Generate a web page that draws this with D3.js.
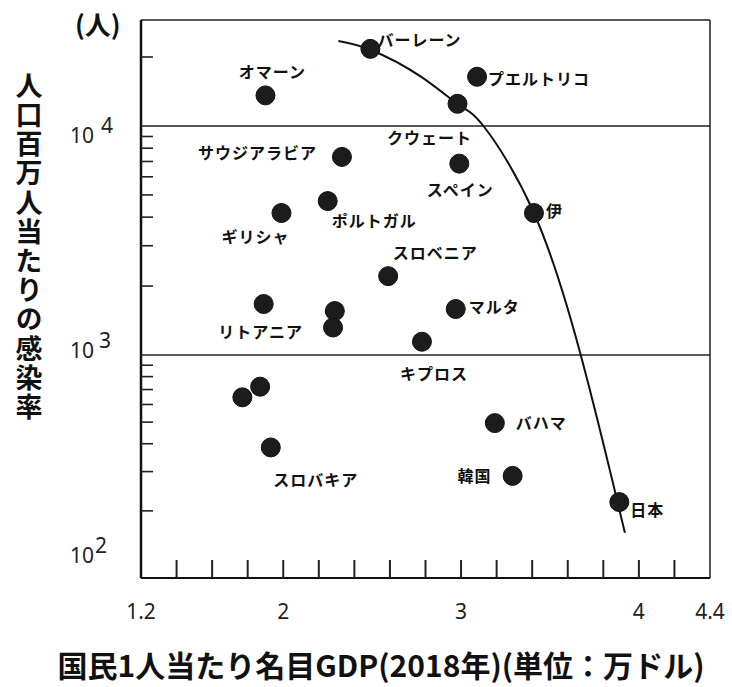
<!DOCTYPE html>
<html>
<head>
<meta charset="utf-8">
<script src="https://cdn.jsdelivr.net/npm/d3@7"></script>
<style>
  body { margin: 0; background: #fff; }
  svg { display: block; }
</style>
</head>
<body>
<script>
// 国民1人当たりGDP(万ドル) と 人口百万人当たりの感染率
var names = ["バーレーン", "プエルトリコ", "クウェート", "オマーン", "サウジアラビア", "スペイン",
  "ポルトガル", "ギリシャ", "伊", "スロベニア", "リトアニア", "", "", "マルタ", "キプロス",
  "", "", "スロバキア", "バハマ", "韓国", "日本"];
var gdp = [2.49, 3.09, 2.98, 1.90, 2.33, 2.99, 2.25, 1.99, 3.41, 2.59, 1.89, 2.29, 2.28, 2.97, 2.78,
  1.77, 1.87, 1.93, 3.19, 3.29, 3.89];
var rate = [21700, 16400, 12500, 13600, 7330, 6850, 4700, 4170, 4170, 2210, 1670, 1556, 1318, 1588, 1143,
  646, 721, 385, 495, 287, 219];

// 手描きの曲線
var curveGdp = [2.31, 2.49, 2.77, 2.98, 3.13, 3.41, 3.67, 3.88, 3.92];
var curveRate = [23500, 21500, 16500, 12480, 9900, 4170, 1020, 219, 161];

var xTickLabels = [1.2, 2, 3, 4, 4.4];
var xMinorTicks = d3.range(1.4, 4.3, 0.2);
var yDecades = [100, 1000, 10000];
var yDecadeExp = ["2", "3", "4"];
var yMinorTicks = [200, 300, 400, 500, 600, 700, 800, 900,
  2000, 3000, 4000, 5000, 6000, 7000, 8000, 9000, 20000];

var W = 732, H = 687;
var plotL = 141, plotR = 710, plotT = 20, plotB = 578;

var x = d3.scaleLinear().domain([1.2, 4.4]).range([plotL, plotR]);
var y = d3.scaleLog().domain([100, 1000, 10000, 29000]).range([plotB, 355, 126, plotT]);  // 手描きなので区分的

var svg = d3.select("body").append("svg")
  .attr("width", W)
  .attr("height", H)
  .style("font-family", "'Noto Sans CJK JP', 'Noto Sans', sans-serif");

var g = svg.append("g");

// 枠
g.append("line").attr("x1", plotL).attr("x2", plotL).attr("y1", plotT).attr("y2", plotB)
  .attr("stroke", "#111").attr("stroke-width", 2.5);
g.append("line").attr("x1", plotL).attr("x2", plotR).attr("y1", plotT).attr("y2", plotT)
  .attr("stroke", "#222").attr("stroke-width", 1.5);
g.append("line").attr("x1", plotR).attr("x2", plotR).attr("y1", plotT).attr("y2", plotB)
  .attr("stroke", "#222").attr("stroke-width", 1.5);
g.append("line").attr("x1", plotL).attr("x2", plotR).attr("y1", plotB).attr("y2", plotB)
  .attr("stroke", "#111").attr("stroke-width", 2);

// 10^3, 10^4 の横線
g.selectAll(".grid")
  .data(yDecades.slice(1))
  .enter()
  .append("line")
  .attr("class", "grid")
  .attr("x1", plotL).attr("x2", plotR)
  .attr("y1", d => y(d)).attr("y2", d => y(d))
  .attr("stroke", "#222").attr("stroke-width", 1.6);

// 縦軸の目盛り
g.selectAll(".ytick")
  .data(yMinorTicks)
  .enter()
  .append("line")
  .attr("class", "ytick")
  .attr("x1", plotL).attr("x2", plotL + 12)
  .attr("y1", d => y(d)).attr("y2", d => y(d))
  .attr("stroke", "#222").attr("stroke-width", 1.6);

// 横軸の目盛り
g.selectAll(".xtick")
  .data(xMinorTicks)
  .enter()
  .append("line")
  .attr("class", "xtick")
  .attr("x1", d => x(d)).attr("x2", d => x(d))
  .attr("y1", plotB).attr("y2", plotB - 18)
  .attr("stroke", "#222").attr("stroke-width", 2);

// 横軸ラベル
g.selectAll(".xlab")
  .data(xTickLabels)
  .enter()
  .append("text")
  .attr("class", "xlab")
  .attr("x", d => x(d))
  .attr("y", 619)
  .attr("text-anchor", "middle")
  .attr("font-family", "'Noto Sans', sans-serif")
  .attr("font-size", 21)
  .attr("fill", "#222")
  .text(d => d);

// 縦軸ラベル 10^n
var yLabDy = [-15, 3, 17];
var yLabSup = [1, 5, 7];
var ylab = g.selectAll(".ylab")
  .data(yDecades)
  .enter()
  .append("text")
  .attr("class", "ylab")
  .attr("x", 70)
  .attr("y", (d, i) => y(d) + yLabDy[i])
  .attr("font-family", "'Noto Sans', sans-serif")
  .attr("font-size", 21)
  .attr("fill", "#222");
ylab.append("tspan").text("10");
ylab.append("tspan")
  .attr("dx", (d, i) => yLabSup[i])
  .attr("dy", -10)
  .text((d, i) => yDecadeExp[i]);

// 曲線
var line = d3.line()
  .x(d => x(d[0]))
  .y(d => y(d[1]))
  .curve(d3.curveNatural);
g.append("path")
  .datum(curveGdp.map((d, i) => [d, curveRate[i]]))
  .attr("d", line)
  .attr("fill", "none")
  .attr("stroke", "#111")
  .attr("stroke-width", 2);

// 点
var pts = gdp.map((d, i) => ({ gdp: d, rate: rate[i], name: names[i] }));
g.selectAll(".dot")
  .data(pts)
  .enter()
  .append("circle")
  .attr("class", "dot")
  .attr("cx", d => x(d.gdp))
  .attr("cy", d => y(d.rate))
  .attr("r", 9.5)
  .attr("fill", "#1c1c1c")
  .attr("stroke", "#111")
  .attr("stroke-width", 1);

// 国名ラベルの位置 [dx, dy, anchor]
var labelPos = [
  [7, -9, "start"], [11, 2, "start"], [-28, 34, "middle"], [7, -23, "middle"], [-25, -4, "end"],
  [1, 27, "middle"], [4, 20, "start"], [-26, 24, "middle"], [12, -2, "start"], [47, -23, "middle"],
  [-3, 28, "middle"], [0, 0, "start"], [0, 0, "start"], [13, -2, "start"], [12, 33, "middle"],
  [0, 0, "start"], [0, 0, "start"], [45, 33, "middle"], [21, 0, "start"], [-21, 0, "end"],
  [11, 8, "start"]
];
g.selectAll(".name")
  .data(pts)
  .enter()
  .append("text")
  .attr("class", "name")
  .attr("x", (d, i) => x(d.gdp) + labelPos[i][0])
  .attr("y", (d, i) => y(d.rate) + labelPos[i][1])
  .attr("dy", "0.36em")
  .attr("text-anchor", (d, i) => labelPos[i][2])
  .attr("font-size", 16)
  .attr("font-weight", "bold")
  .attr("letter-spacing", 1)
  .attr("fill", "#111")
  .text(d => d.name);

// 単位
svg.append("text")
  .attr("x", 75)
  .attr("y", 35)
  .attr("font-size", 26)
  .attr("font-weight", "bold")
  .attr("fill", "#111")
  .text("(人)");

// 縦軸タイトル（縦書き）
svg.append("text")
  .attr("x", 29)
  .attr("y", 72)
  .attr("writing-mode", "vertical-rl")
  .attr("font-size", 27)
  .attr("font-weight", "bold")
  .attr("letter-spacing", 2.2)
  .attr("fill", "#111")
  .text("人口百万人当たりの感染率");

// 横軸タイトル
svg.append("text")
  .attr("x", 381)
  .attr("y", 666)
  .attr("dy", "0.36em")
  .attr("text-anchor", "middle")
  .attr("font-size", 30)
  .attr("font-weight", "bold")
  .attr("fill", "#111")
  .attr("textLength", 647)
  .attr("lengthAdjust", "spacingAndGlyphs")
  .text("国民1人当たり名目GDP(2018年)(単位：万ドル)");
</script>
</body>
</html>
